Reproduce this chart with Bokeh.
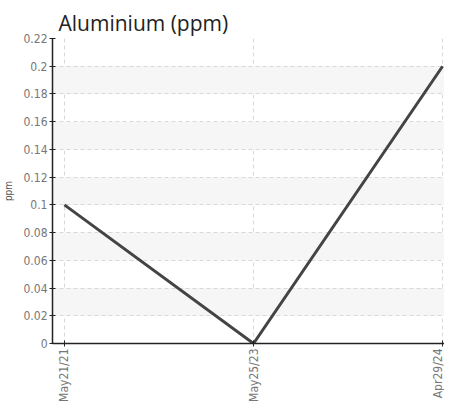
import math
from bokeh.plotting import figure
from bokeh.models import Range1d, FixedTicker
from bokeh.embed import file_html
from bokeh.resources import INLINE

dates = ["May21/21", "May25/23", "Apr29/24"]
values = [0.1, 0.0, 0.2]
y_ticks = [0, 0.02, 0.04, 0.06, 0.08, 0.1, 0.12, 0.14, 0.16, 0.18, 0.2, 0.22]
y_labels = ["0", "0.02", "0.04", "0.06", "0.08", "0.1", "0.12", "0.14", "0.16", "0.18", "0.2", "0.22"]

xs = list(range(len(dates)))

NARROW = "'Liberation Sans Narrow', 'DejaVu Sans Condensed', sans-serif"

p = figure(width=444, height=404, output_backend="svg", toolbar_location=None,
           x_range=Range1d(-0.063, 2.01), y_range=Range1d(0, 0.22),
           min_border_left=46, min_border_right=0, min_border_top=38, min_border_bottom=10)
p.outline_line_color = None
p.background_fill_color = "white"

p.title.text = "Aluminium (ppm)"
p.title.text_font = "Open Sans"
p.title.text_font_size = "21px"
p.title.text_font_style = "normal"
p.title.text_color = "#222222"
p.title.offset = 6
p.title.standoff = 4

p.line(xs, values, line_color="#444444", line_width=3)

# axes
p.xaxis.ticker = FixedTicker(ticks=xs)
p.xaxis.major_label_overrides = {i: d for i, d in enumerate(dates)}
p.xaxis.major_label_orientation = math.pi / 2
p.yaxis.ticker = FixedTicker(ticks=y_ticks)
p.yaxis.major_label_overrides = {t: l for t, l in zip(y_ticks, y_labels)}
p.yaxis.axis_label = "ppm"

for ax in (p.xaxis, p.yaxis):
    ax.axis_line_color = "#222222"
    ax.axis_line_width = 1.5
    ax.major_tick_line_color = "#222222"
    ax.major_tick_in = 3
    ax.major_tick_out = 3
    ax.minor_tick_line_color = None
    ax.major_label_text_font = NARROW
    ax.major_label_text_font_size = "12px"
    ax.major_label_text_color = "#777777"
    ax.major_label_standoff = 2

p.yaxis.axis_label_text_font = NARROW
p.yaxis.axis_label_text_font_size = "10px"
p.yaxis.axis_label_text_font_style = "normal"
p.yaxis.axis_label_text_color = "#555555"
p.yaxis.axis_label_standoff = 6

# grid
for g in (p.xgrid, p.ygrid):
    g.grid_line_color = "#d8d8d8"
    g.grid_line_dash = "4 3"
    g.grid_line_width = 1
p.ygrid.band_fill_color = "#f6f6f6"
p.ygrid.band_fill_alpha = 1.0

open("out.html", "w").write(file_html(p, INLINE))
